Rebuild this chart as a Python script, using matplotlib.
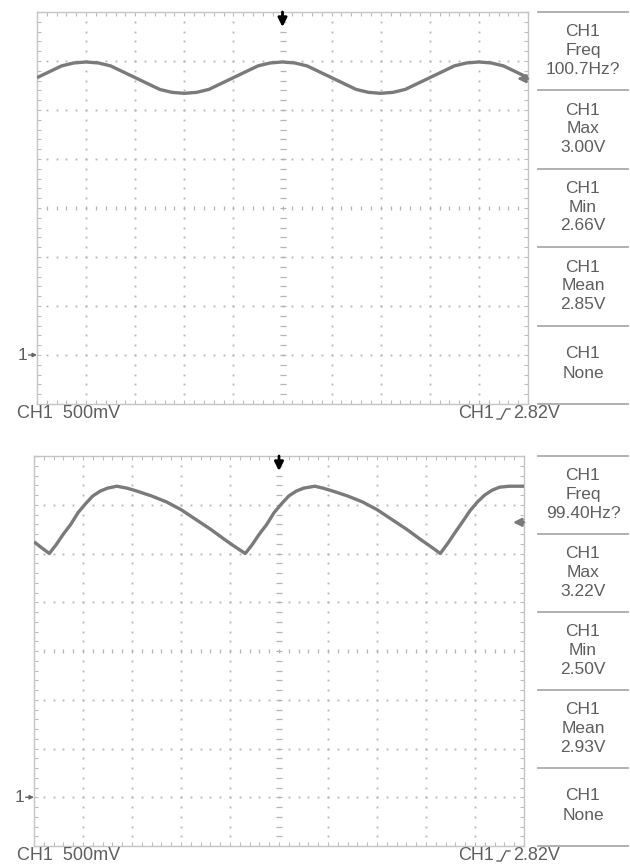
import numpy as np
import matplotlib
matplotlib.use('Agg')
import matplotlib.pyplot as plt
from matplotlib.lines import Line2D

plt.rcParams['font.family'] = ['Liberation Sans Narrow', 'Liberation Sans', 'DejaVu Sans']

# top capture: time (ms) and CH1 voltage (V)
t_top = [0.0, 0.625, 1.25, 1.875, 2.5, 3.125, 3.75, 4.375, 5.0, 5.625,
         6.25, 6.875, 7.5, 8.125, 8.75, 9.375, 10.0, 10.625, 11.25, 11.875,
         12.5, 13.125, 13.75, 14.375, 15.0, 15.625, 16.25, 16.875, 17.5, 18.125,
         18.75, 19.375, 20.0, 20.625, 21.25, 21.875, 22.5, 23.125, 23.75, 24.375, 25.0]
v_top = [2.83, 2.89, 2.95, 2.98, 2.99, 2.98, 2.95, 2.89, 2.83, 2.77,
         2.71, 2.68, 2.67, 2.68, 2.71, 2.77, 2.83, 2.89, 2.95, 2.98,
         2.99, 2.98, 2.95, 2.89, 2.83, 2.77, 2.71, 2.68, 2.67, 2.68,
         2.71, 2.77, 2.83, 2.89, 2.95, 2.98, 2.99, 2.98, 2.95, 2.89, 2.83]

# bottom capture
t_bot = [0.0, 0.38, 0.78, 1.13, 1.5, 1.88, 2.25, 2.63, 3.0, 3.38, 3.75, 4.23,
         4.75, 5.25, 6.0, 6.75, 7.5, 8.25, 9.0, 9.75, 10.25, 10.78,
         11.13, 11.5, 11.88, 12.25, 12.63, 13.0, 13.38, 13.75, 14.33,
         14.75, 15.25, 16.0, 16.75, 17.5, 18.25, 19.0, 19.75, 20.25, 20.73,
         21.13, 21.5, 21.88, 22.25, 22.63, 23.0, 23.38, 23.75, 24.25, 25.0]
v_bot = [2.62, 2.56, 2.50, 2.59, 2.70, 2.80, 2.92, 3.01, 3.09, 3.14, 3.17, 3.19,
         3.17, 3.14, 3.09, 3.03, 2.95, 2.85, 2.75, 2.64, 2.57, 2.50,
         2.59, 2.70, 2.80, 2.92, 3.01, 3.09, 3.14, 3.17, 3.19,
         3.17, 3.14, 3.09, 3.03, 2.95, 2.85, 2.75, 2.64, 2.57, 2.50,
         2.61, 2.72, 2.83, 2.94, 3.03, 3.10, 3.15, 3.18, 3.19, 3.19]

menu_top = [['CH1', 'Freq', '100.7Hz?'], ['CH1', 'Max', '3.00V'], ['CH1', 'Min', '2.66V'],
            ['CH1', 'Mean', '2.85V'], ['CH1', 'None']]
menu_bot = [['CH1', 'Freq', '99.40Hz?'], ['CH1', 'Max', '3.22V'], ['CH1', 'Min', '2.50V'],
            ['CH1', 'Mean', '2.93V'], ['CH1', 'None']]

volts_div = 0.5
ms_div = 2.5
trig_level = 2.82
scale_label = 'CH1  500mV'

W, H = 630, 868
TRACE = '#7a7a7a'
GRID = '#b4b4b4'
TEXT = '#5e5e5e'

fig = plt.figure(figsize=(W / 100, H / 100), dpi=100)


def fx(x):
    return x / W


def fy(y):
    return 1 - y / H


def panel(x0, y0, x1, y1, t, v, menu):
    ax = fig.add_axes([fx(x0), fy(y1), (x1 - x0) / W, (y1 - y0) / H])
    ax.set_xlim(0, 10 * ms_div)
    ax.set_ylim(-volts_div, 7 * volts_div)
    for s in ax.spines.values():
        s.set_color('#c4c4c4')
        s.set_linewidth(1.0)
    ax.set_xticks(np.arange(0, 10 * ms_div + 0.01, ms_div))
    ax.set_xticks(np.arange(0, 10 * ms_div + 0.01, ms_div / 5), minor=True)
    ax.set_yticks(np.arange(-volts_div, 7 * volts_div + 0.01, volts_div))
    ax.set_yticks(np.arange(-volts_div, 7 * volts_div + 0.01, volts_div / 5), minor=True)
    ax.tick_params(which='both', direction='in', length=3, width=0.8, color='#bcbcbc',
                   top=True, right=True, labelbottom=False, labelleft=False)

    xc = 5 * ms_div
    yc = 3 * volts_div
    # dotted graticule
    xs = np.arange(0, 10 * ms_div + 0.01, ms_div / 5)[1:-1]
    ys = np.arange(-volts_div, 7 * volts_div + 0.01, volts_div / 5)[1:-1]
    for k in range(1, 10):
        if k == 5:
            continue
        ax.plot(np.full(len(ys), k * ms_div), ys, 's', ms=1.3, mew=0, color=GRID)
    for k in range(1, 8):
        if k == 4:
            continue
        gy = -volts_div + k * volts_div
        ax.plot(xs, np.full(len(xs), gy), 's', ms=1.3, mew=0, color=GRID)
    # centre cross
    ax.plot(np.full(len(ys), xc), ys, '_', ms=4, mew=0.9, color=GRID)
    ax.plot(xs, np.full(len(xs), yc), '|', ms=3.5, mew=0.9, color=GRID)

    ax.plot(t, v, color=TRACE, lw=2.4, solid_capstyle='butt', zorder=5)

    # trigger position
    ax.annotate('', xy=(0.5, 1 - 15 / (y1 - y0)), xytext=(0.5, 1.0),
                xycoords='axes fraction',
                arrowprops=dict(arrowstyle='-|>', color='black', lw=2.0,
                                mutation_scale=13, shrinkA=0, shrinkB=0), zorder=6)
    # trigger level
    tr = ax.get_yaxis_transform()
    ax.annotate('', xy=(1 - 11 / (x1 - x0), trig_level), xytext=(1.0, trig_level),
                xycoords=tr, textcoords=tr,
                arrowprops=dict(arrowstyle='-|>', color=TRACE, lw=1.8,
                                mutation_scale=12, shrinkA=0, shrinkB=0), zorder=6)
    # ground marker
    ax.annotate('', xy=(0, 0), xytext=(-6, 0), textcoords='offset points',
                arrowprops=dict(arrowstyle='-|>', color='#666666', lw=1.0,
                                mutation_scale=6, shrinkA=0, shrinkB=0),
                annotation_clip=False)
    ax.annotate('1', xy=(0, 0), xytext=(-10.5, 0), textcoords='offset points',
                ha='center', va='center', fontsize=12.5, color=TEXT, annotation_clip=False)

    # bottom labels
    ty = y1 + 10
    fig.text(fx(17), fy(ty), scale_label, ha='left', va='center', fontsize=13, color=TEXT)
    fig.text(fx(494), fy(ty), 'CH1', ha='right', va='center', fontsize=13, color=TEXT)
    fig.text(fx(513), fy(ty), f'{trig_level:.2f}V', ha='left', va='center',
             fontsize=13, color=TEXT)
    fig.add_artist(Line2D([fx(497), fx(501), fx(506), fx(510)],
                          [fy(ty + 5), fy(ty + 5), fy(ty - 5), fy(ty - 5)],
                          color=TEXT, lw=1.0))

    # measurement menu
    step = (y1 - y0) / 5
    for i in range(6):
        yy = y0 + i * step
        fig.add_artist(Line2D([fx(538), fx(628)], [fy(yy), fy(yy)], color='#aaaaaa', lw=1.3))
    for i, lines in enumerate(menu):
        top = y0 + i * step
        if len(lines) == 3:
            offs = [20, 38.5, 57]
        else:
            offs = [28, 48]
        for s, o in zip(lines, offs):
            fig.text(fx(583), fy(top + o), s, ha='center', va='center',
                     fontsize=12.5, color=TEXT)
    return ax


panel(37, 12, 528, 404, t_top, v_top, menu_top)
panel(34, 456, 524, 846, t_bot, v_bot, menu_bot)

fig.savefig('out.png', dpi=100)
